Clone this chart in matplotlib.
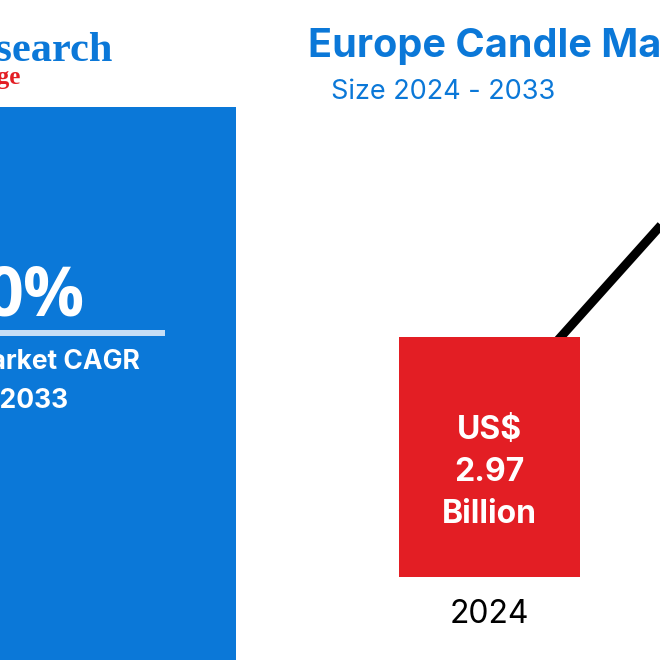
import matplotlib
matplotlib.use("Agg")
import matplotlib.pyplot as plt
from matplotlib.patches import Rectangle

plt.rcParams['font.family'] = ['Inter', 'DejaVu Sans']

# data
categories = ["2024"]
bar_values = [2.97]
bar_labels = ["US$", "2.97", "Billion"]
line_positions = [0, 1]
line_values = [1.98, 6.12]

BLUE = "#0b78d8"
RED = "#e31e24"
W = H = 660

fig = plt.figure(figsize=(6.6, 6.6), dpi=100, facecolor="white")

# background layer works in image pixels
bg = fig.add_axes([0, 0, 1, 1])
bg.set_xlim(0, W)
bg.set_ylim(H, 0)
bg.axis("off")

bg.add_patch(Rectangle((0, 107), 236, 553, color=BLUE, lw=0))
bg.add_patch(Rectangle((0, 330), 165, 6, color="#c6def6", lw=0))

bg.text(113, 61, "Research", ha="right", va="baseline", fontsize=30.5, weight="bold",
        family="Liberation Serif", color=BLUE)
bg.text(21, 84, "Knowledge", ha="right", va="baseline", fontsize=18, weight="bold",
        family="Liberation Serif", color=RED)

bg.text(308, 57, "Europe Candle Market", ha="left", va="baseline", fontsize=28.5,
        weight="bold", color=BLUE)
bg.text(331, 99, "Size 2024 - 2033", ha="left", va="baseline", fontsize=19.5, color=BLUE)

bg.text(85, 316, "0%", ha="right", va="baseline", fontsize=49, weight="bold",
        family="Open Sans", color="white")
bg.text(140, 369, "Market CAGR", ha="right", va="baseline", fontsize=19, weight="bold", color="white")
bg.text(68, 408, "2024 - 2033", ha="right", va="baseline", fontsize=19, weight="bold", color="white")

# bar chart layer, baseline at y=577 px, 240 px for the 2024 bar
ax = fig.add_axes([0, (H - 577) / H, 1, 577 / H])
ax.patch.set_alpha(0)
ax.set_xlim(-489 / 300, (W - 489) / 300)
ax.set_ylim(0, 577 / 240 * bar_values[0])
for s in ax.spines.values():
    s.set_visible(False)
ax.set_yticks([])

ax.plot(line_positions, line_values, color="black", lw=6.4, solid_capstyle="butt", zorder=2)
ax.bar(range(len(categories)), bar_values, width=181 / 300, color=RED, zorder=3)

ax.set_xticks(range(len(categories)))
ax.set_xticklabels(categories, fontsize=23, color="black")
ax.tick_params(axis="x", length=0, pad=16)

for lab, v in zip(bar_labels, [1.81, 1.29, 0.77]):
    ax.text(0, v, lab, ha="center", va="center", fontsize=23, weight="bold", color="white", zorder=4)

fig.savefig("out.png", dpi=100)
